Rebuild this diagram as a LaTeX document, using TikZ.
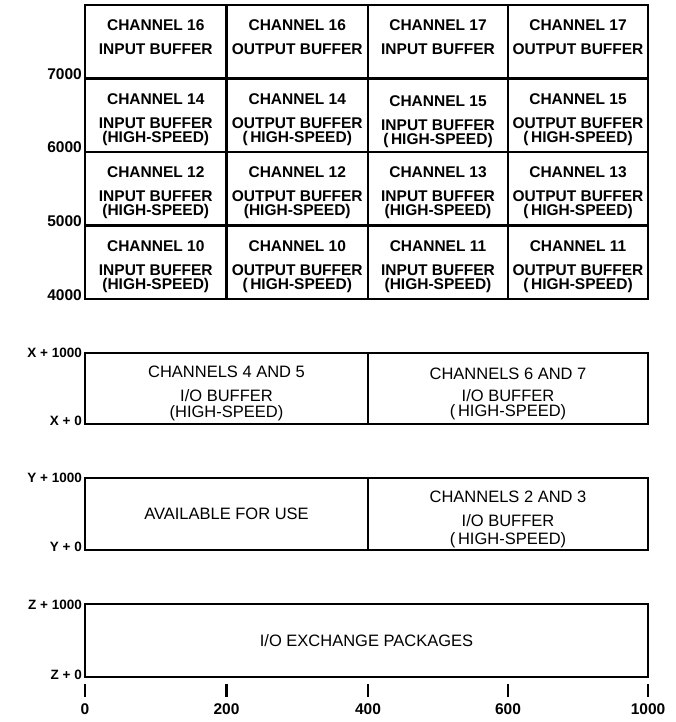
\documentclass[tikz,border=0pt]{standalone}
\usepackage{fontspec}
\setmainfont{Liberation Sans}
\begin{document}
\begin{tikzpicture}[x=1pt,y=-1pt, line width=2.4pt,
  cell/.style={anchor=north, inner sep=0pt, align=center, font=\fontsize{15.5}{14}\selectfont\bfseries},
  wide/.style={cell, font=\fontsize{16.5}{15.5}\selectfont},
  addr/.style={anchor=east, inner sep=0pt, font=\fontsize{15.5}{14}\selectfont\bfseries},
  offs/.style={addr, font=\fontsize{13.5}{14}\selectfont\bfseries},
  tick/.style={line width=2.6pt}]
\useasboundingbox (0,0) rectangle (675,722);

% ===== Channel 10-17 buffers: 4000..10000 =====
\draw (85,5) rectangle (648,299);
\foreach \x in {226.5,368,508} \draw (\x,5) -- (\x,299);
\foreach \y in {78.5,152,225.5} \draw (85,\y) -- (648,\y);

\node[addr] (a7000) at (83,74) {7000};
\node[addr] (a6000) at (83,147.5) {6000};
\node[addr] (a5000) at (83,221) {5000};
\node[addr] (a4000) at (83,295) {4000};

\node[cell] (ch16in)  at (155.75,18.5) {CHANNEL 16\\[10pt]INPUT BUFFER};
\node[cell] (ch16out) at (297.25,18.5) {CHANNEL 16\\[10pt]OUTPUT BUFFER};
\node[cell] (ch17in)  at (438,18.5)    {CHANNEL 17\\[10pt]INPUT BUFFER};
\node[cell] (ch17out) at (578,18.5)    {CHANNEL 17\\[10pt]OUTPUT BUFFER};

\node[cell] (ch14in)  at (155.75,92) {CHANNEL 14\\[10pt]INPUT BUFFER\\(HIGH-SPEED)};
\node[cell] (ch14out) at (297.25,92) {CHANNEL 14\\[10pt]OUTPUT BUFFER\\(\,HIGH-SPEED)};
\node[cell] (ch15in)  at (438,94)    {CHANNEL 15\\[10pt]INPUT BUFFER\\(\,HIGH-SPEED)};
\node[cell] (ch15out) at (578,92)    {CHANNEL 15\\[10pt]OUTPUT BUFFER\\(\,HIGH-SPEED)};

\node[cell] (ch12in)  at (155.75,165.5) {CHANNEL 12\\[10pt]INPUT BUFFER\\(HIGH-SPEED)};
\node[cell] (ch12out) at (297.25,165.5) {CHANNEL 12\\[10pt]OUTPUT BUFFER\\(HIGH-SPEED)};
\node[cell] (ch13in)  at (438,165.5)    {CHANNEL 13\\[10pt]INPUT BUFFER\\(HIGH-SPEED)};
\node[cell] (ch13out) at (578,165.5)    {CHANNEL 13\\[10pt]OUTPUT BUFFER\\(\,HIGH-SPEED)};

\node[cell] (ch10in)  at (155.75,239) {CHANNEL 10\\[10pt]INPUT BUFFER\\(HIGH-SPEED)};
\node[cell] (ch10out) at (297.25,239) {CHANNEL 10\\[10pt]OUTPUT BUFFER\\(\,HIGH-SPEED)};
\node[cell] (ch11in)  at (438,239)    {CHANNEL 11\\[10pt]INPUT BUFFER\\(HIGH-SPEED)};
\node[cell] (ch11out) at (578,239)    {CHANNEL 11\\[10pt]OUTPUT BUFFER\\(\,HIGH-SPEED)};

% ===== X block =====
\draw (85,353) rectangle (648,424);
\draw (368,353) -- (368,424);
\node[offs] (ax1) at (83,353) {X + 1000};
\node[offs] (ax0) at (83,421) {X + 0};
\node[wide] (ch45) at (226.5,364.5) {CHANNELS 4 AND 5\\[9pt]I/O BUFFER\\(HIGH-SPEED)};
\node[wide] (ch67) at (508,367)     {CHANNELS 6 AND 7\\[6pt]I/O BUFFER\\(\,HIGH-SPEED)};

% ===== Y block =====
\draw (85,478) rectangle (648,550);
\draw (368,478) -- (368,550);
\node[offs] (ay1) at (83,478) {Y + 1000};
\node[offs] (ay0) at (83,547) {Y + 0};
\node[wide, anchor=center] (avail) at (226.5,514) {AVAILABLE FOR USE};
\node[wide] (ch23) at (508,489.5) {CHANNELS 2 AND 3\\[9pt]I/O BUFFER\\[2pt](\,HIGH-SPEED)};

% ===== Z block =====
\draw (85,604) rectangle (648,677);
\node[offs] (az1) at (83,605) {Z + 1000};
\node[offs] (az0) at (83,675) {Z + 0};
\node[wide, anchor=center] (xpkg) at (366.5,641) {I/O EXCHANGE PACKAGES};

% ===== scale (octal) =====
\foreach \x/\lab in {85/0,226.5/200,368/400,508/600,648/1000} {
  \draw[tick] (\x,684) -- (\x,697);
  \node[addr, anchor=center] (t\lab) at (\x,709) {\lab};
}

\end{tikzpicture}
\end{document}
